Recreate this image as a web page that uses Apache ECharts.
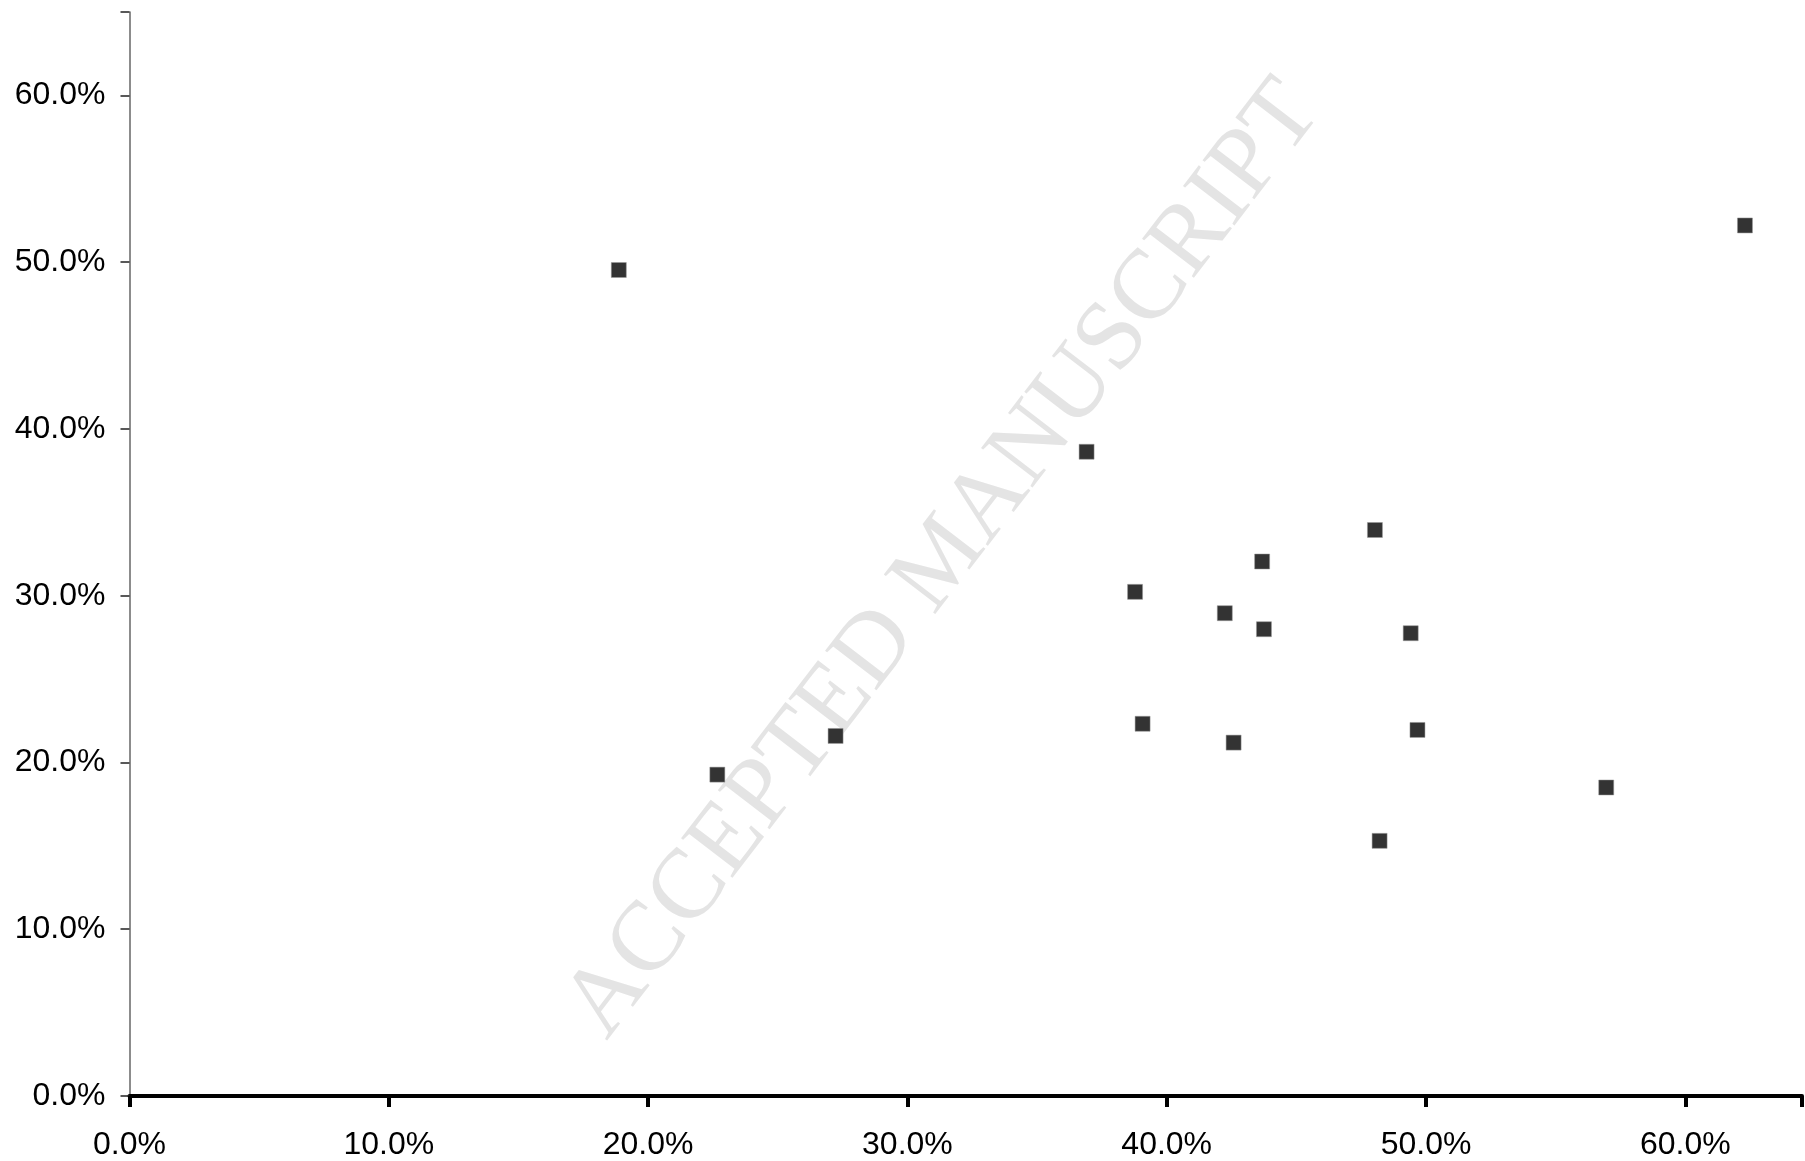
<!DOCTYPE html>
<html>
<head>
<meta charset="utf-8">
<script src="https://cdn.jsdelivr.net/npm/echarts@6/dist/echarts.min.js"></script>
<style>
html,body{margin:0;padding:0;background:#fff;}
#chart{width:1805px;height:1161px;}
</style>
</head>
<body>
<div id="chart"></div>
<script>
// Data (percent values)
const xValues = [18.87, 62.3, 36.91, 48.03, 43.68, 38.78, 42.24, 43.75, 49.41, 39.07, 49.67, 42.58, 27.23, 22.67, 56.95, 48.21];
const yValues = [49.53, 52.2, 38.63, 33.94, 32.05, 30.23, 28.95, 27.99, 27.75, 22.32, 21.95, 21.19, 21.59, 19.27, 18.5, 15.3];
const xTicks = [0, 10, 20, 30, 40, 50, 60];
const yTicks = [0, 10, 20, 30, 40, 50, 60];
const watermarkText = 'ACCEPTED MANUSCRIPT';

const points = xValues.map((x, i) => [x, yValues[i]]);
const fmt = (v, ticks) => ticks.indexOf(Math.round(v * 1000) / 1000) >= 0 ? v.toFixed(1) + '%' : '';

const chart = echarts.init(document.getElementById('chart'), null, {renderer: 'canvas'});
chart.setOption({
  animation: false,
  backgroundColor: '#ffffff',
  grid: {left: 129.5, top: 12, right: 1, bottom: 64.5, containLabel: false},
  graphic: [{
    type: 'text',
    z: -10,
    x: 944,
    y: 560,
    rotation: 0.915,
    style: {
      text: watermarkText,
      fill: '#e4e4e4',
      font: '99px "Liberation Serif", "Times New Roman", serif',
      textAlign: 'center',
      textVerticalAlign: 'middle'
    }
  }],
  xAxis: {
    type: 'value',
    min: 0,
    max: 64.5,
    interval: 10,
    splitLine: {show: false},
    axisLine: {show: true, onZero: false, lineStyle: {color: '#000', width: 4}},
    axisTick: {show: true, length: 11, lineStyle: {color: '#000', width: 4}},
    axisLabel: {
      margin: 33,
      color: '#000',
      fontSize: 32,
      fontFamily: '"Liberation Sans", Arial, sans-serif',
      formatter: v => fmt(v, xTicks)
    }
  },
  yAxis: {
    type: 'value',
    min: 0,
    max: 65,
    interval: 10,
    splitLine: {show: false},
    axisLine: {show: true, lineStyle: {color: '#666', width: 1.5}},
    axisTick: {show: true, length: 9, lineStyle: {color: '#222', width: 1.5}},
    axisLabel: {
      margin: 24,
      color: '#000',
      fontSize: 32,
      fontFamily: '"Liberation Sans", Arial, sans-serif',
      formatter: v => fmt(v, yTicks)
    }
  },
  series: [{
    type: 'scatter',
    symbol: 'rect',
    symbolSize: 15,
    z: 5,
    itemStyle: {color: '#333333', borderColor: '#999', borderWidth: 0.5, opacity: 1},
    data: points
  }]
});
</script>
</body>
</html>
